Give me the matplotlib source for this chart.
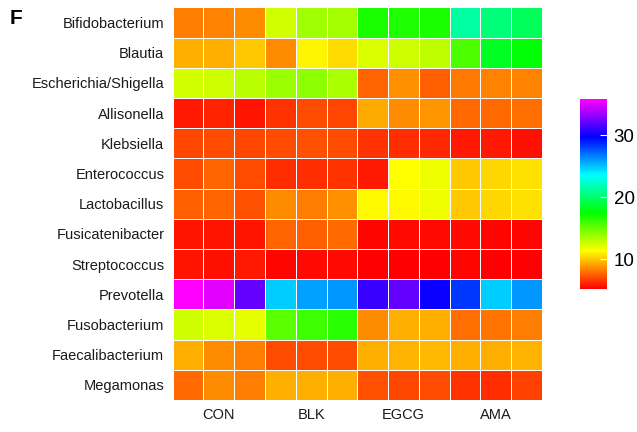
import colorsys
import numpy as np
import matplotlib
matplotlib.use("Agg")
import matplotlib.pyplot as plt
from matplotlib.colors import ListedColormap, Normalize

plt.rcParams['font.family'] = ['Liberation Sans', 'DejaVu Sans']

taxa = ["Bifidobacterium", "Blautia", "Escherichia/Shigella", "Allisonella",
        "Klebsiella", "Enterococcus", "Lactobacillus", "Fusicatenibacter",
        "Streptococcus", "Prevotella", "Fusobacterium", "Faecalibacterium",
        "Megamonas"]
groups = ["CON", "BLK", "EGCG", "AMA"]
reps_per_group = 3

# relative abundance per sample (rows: taxa, columns: CON x3, BLK x3, EGCG x3, AMA x3)
bifidobacterium      = [8.3, 8.4, 8.6, 12.4, 13.6, 13.5, 16.9, 16.7, 16.8, 21.3, 20.3, 19.6]
blautia              = [9.5, 9.4, 10.1, 8.6, 11.1, 10.5, 12.2, 12.6, 12.9, 15.7, 18.3, 17.6]
escherichia_shigella = [12.4, 12.6, 13.0, 13.8, 14.1, 13.4, 7.7, 8.7, 7.5, 8.1, 8.4, 8.4]
allisonella          = [5.9, 6.1, 5.7, 6.5, 7.0, 6.9, 9.3, 8.6, 8.9, 7.8, 7.8, 7.9]
klebsiella           = [6.9, 7.0, 6.9, 7.1, 7.2, 7.1, 6.4, 6.3, 6.2, 5.8, 5.8, 5.6]
enterococcus         = [7.0, 7.7, 7.1, 6.3, 6.3, 6.4, 5.8, 11.3, 11.7, 10.1, 10.4, 10.6]
lactobacillus        = [7.5, 7.6, 7.2, 8.6, 8.3, 8.7, 11.2, 11.2, 11.7, 10.1, 10.4, 10.6]
fusicatenibacter     = [5.7, 5.7, 5.7, 7.7, 7.5, 7.8, 5.4, 5.5, 5.5, 5.5, 5.4, 5.4]
streptococcus        = [5.7, 5.6, 5.8, 5.4, 5.5, 5.5, 5.3, 5.3, 5.3, 5.4, 5.2, 5.3]
prevotella           = [35.8, 35.0, 32.0, 24.8, 25.8, 26.1, 30.9, 32.0, 29.9, 28.3, 24.8, 26.1]
fusobacterium        = [12.6, 12.2, 11.9, 15.3, 16.0, 16.5, 8.6, 9.5, 9.5, 7.9, 8.0, 8.2]
faecalibacterium     = [9.4, 8.6, 8.3, 7.1, 7.0, 7.0, 9.4, 9.6, 9.7, 9.5, 9.5, 9.6]
megamonas            = [7.8, 8.6, 8.2, 9.4, 9.5, 9.4, 7.2, 6.9, 7.0, 6.4, 6.3, 6.8]

values = np.array([bifidobacterium, blautia, escherichia_shigella, allisonella,
                   klebsiella, enterococcus, lactobacillus, fusicatenibacter,
                   streptococcus, prevotella, fusobacterium, faecalibacterium,
                   megamonas])

# rainbow palette: red -> yellow -> green -> cyan -> blue -> magenta
hues = np.linspace(0, 5 / 6, 256)
cmap = ListedColormap([colorsys.hsv_to_rgb(h, 1, 1) for h in hues])
norm = Normalize(vmin=values.min(), vmax=values.max())

fig = plt.figure(figsize=(6.37, 4.32), dpi=100)
ax = fig.add_axes([172.7 / 637, 1 - 400 / 432, 369.3 / 637, 392.7 / 432])

n_rows, n_cols = values.shape
ax.pcolormesh(np.arange(n_cols + 1), np.arange(n_rows + 1), values,
              cmap=cmap, norm=norm, edgecolors="white", linewidth=0.6)
ax.set_xlim(0, n_cols)
ax.set_ylim(n_rows, 0)

centers = [i * reps_per_group + reps_per_group / 2 for i in range(len(groups))]
ax.set_xticks(centers)
ax.set_xticklabels(groups, fontsize=10.5, color="#1a1a1a")
ax.set_yticks(np.arange(n_rows) + 0.5)
ax.set_yticklabels(taxa, fontsize=10.5, color="#1a1a1a")
ax.tick_params(length=0, pad=6)
for s in ax.spines.values():
    s.set_visible(False)

cax = fig.add_axes([580 / 637, 1 - 289 / 432, 26.7 / 637, 190 / 432])
cb = fig.colorbar(plt.cm.ScalarMappable(norm=norm, cmap=cmap), cax=cax)
cb.outline.set_visible(False)
cb.set_ticks([10, 20, 30])
cax.tick_params(labelsize=13.5, length=5, width=0.8, direction="in",
                color="white", pad=5)

fig.text(10 / 637, 1 - 18 / 432, "F", fontsize=15, fontweight="bold",
         va="center", ha="left")

fig.savefig("out.png", dpi=100)
